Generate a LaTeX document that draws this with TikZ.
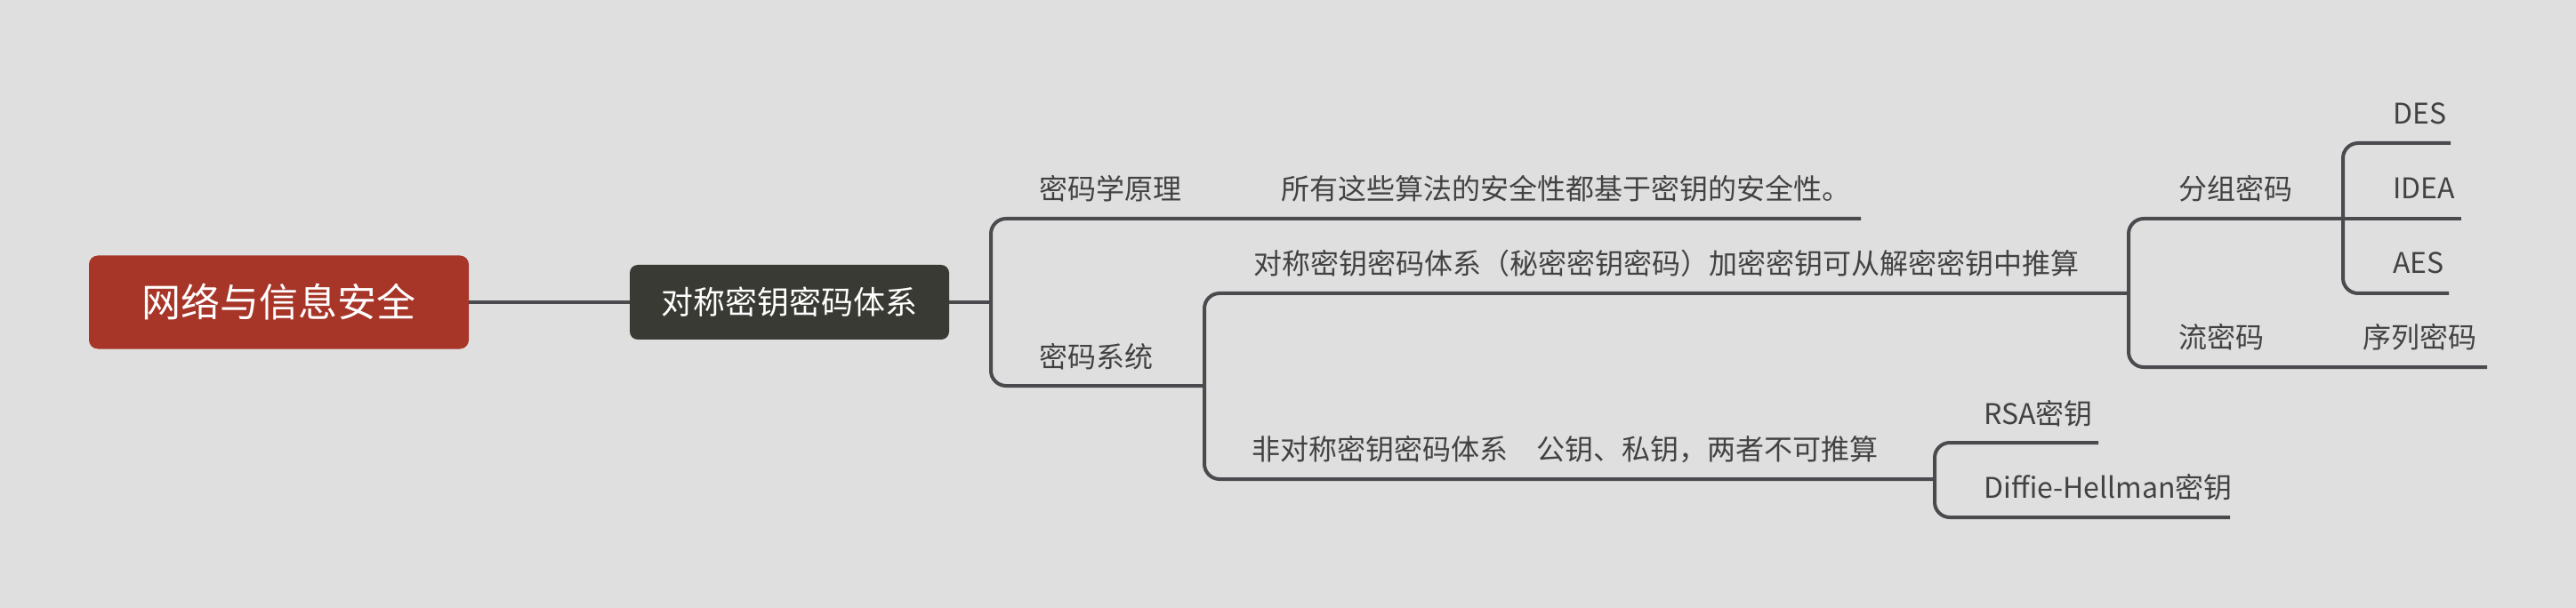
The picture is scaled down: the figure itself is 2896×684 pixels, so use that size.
\documentclass[tikz,border=0pt]{standalone}
\usepackage{fontspec}
\newfontfamily\cjk{Noto Sans CJK SC}
\definecolor{bgc}{RGB}{223,223,223}
\definecolor{rootc}{RGB}{167,53,40}
\definecolor{subc}{RGB}{56,58,51}
\definecolor{linec}{RGB}{74,74,79}
\definecolor{textc}{RGB}{66,66,66}
\begin{document}
\begin{tikzpicture}[x=1pt,y=-1pt,
  conn/.style={draw=linec, line width=4pt, rounded corners=17pt},
  topic/.style={anchor=west, inner sep=0pt, text=textc, font=\cjk\fontsize{32}{38}\selectfont},
  rootbox/.style={fill=rootc, rounded corners=10pt, text=white, inner sep=0pt,
    minimum width=427pt, minimum height=105pt, font=\cjk\fontsize{44}{52}\selectfont},
  subbox/.style={fill=subc, rounded corners=9pt, text=white, inner sep=0pt,
    minimum width=359pt, minimum height=84pt, font=\cjk\fontsize{36}{44}\selectfont}]
\fill[bgc] (0,0) rectangle (2896,684);
\useasboundingbox (0,0) rectangle (2896,684);

\node[rootbox] (root) at (313.5,340) {网络与信息安全};
\node[subbox] (sub) at (887.5,340) {对称密钥密码体系};

\node[topic] (n1) at (1168,212) {密码学原理};
\node[topic] (c1) at (1440,212) {所有这些算法的安全性都基于密钥的安全性。};
\node[topic] (n2) at (1168,401) {密码系统};
\node[topic] (n3) at (1409,296) {对称密钥密码体系（秘密密钥密码）加密密钥可从解密密钥中推算};
\node[topic] (n4) at (1407,506) {非对称密钥密码体系　公钥、私钥，两者不可推算};
\node[topic] (n5) at (2449,212) {分组密码};
\node[topic] (n6) at (2449,379) {流密码};
\node[topic] (c6) at (2656,379) {序列密码};
\node[topic] (des) at (2690,127.5) {DES};
\node[topic] (idea) at (2690,211.5) {IDEA};
\node[topic] (aes) at (2690,295.5) {AES};
\node[topic] (rsa) at (2230,465) {RSA密钥};
\node[topic] (dh) at (2230,548.5) {Diffie-Hellman密钥};

\coordinate (b1) at (1114,340);
\coordinate (b2) at (1354,434);
\coordinate (b3) at (2393,330);
\coordinate (b4) at (2634,246);
\coordinate (b5) at (2175,539);
\coordinate (e1) at (2092,246);
\coordinate (e6) at (2796,413);
\coordinate (edes) at (2755,161);
\coordinate (eidea) at (2767,246);
\coordinate (eaes) at (2753,330);
\coordinate (ersa) at (2359,498);
\coordinate (edh) at (2507,582);

\draw[conn] (root.east) -- (sub.west);
\draw[conn] (sub.east) -- (b1);
\draw[conn] (b1) |- (e1);
\draw[conn] (b1) |- (b2);
\draw[conn] (b2) |- (b3);
\draw[conn] (b2) |- (b5);
\draw[conn] (b3) |- (b4);
\draw[conn] (b3) |- (e6);
\draw[conn] (b4) |- (edes);
\draw[conn] (b4) -- (eidea);
\draw[conn] (b4) |- (eaes);
\draw[conn] (b5) |- (ersa);
\draw[conn] (b5) |- (edh);
\end{tikzpicture}
\end{document}
